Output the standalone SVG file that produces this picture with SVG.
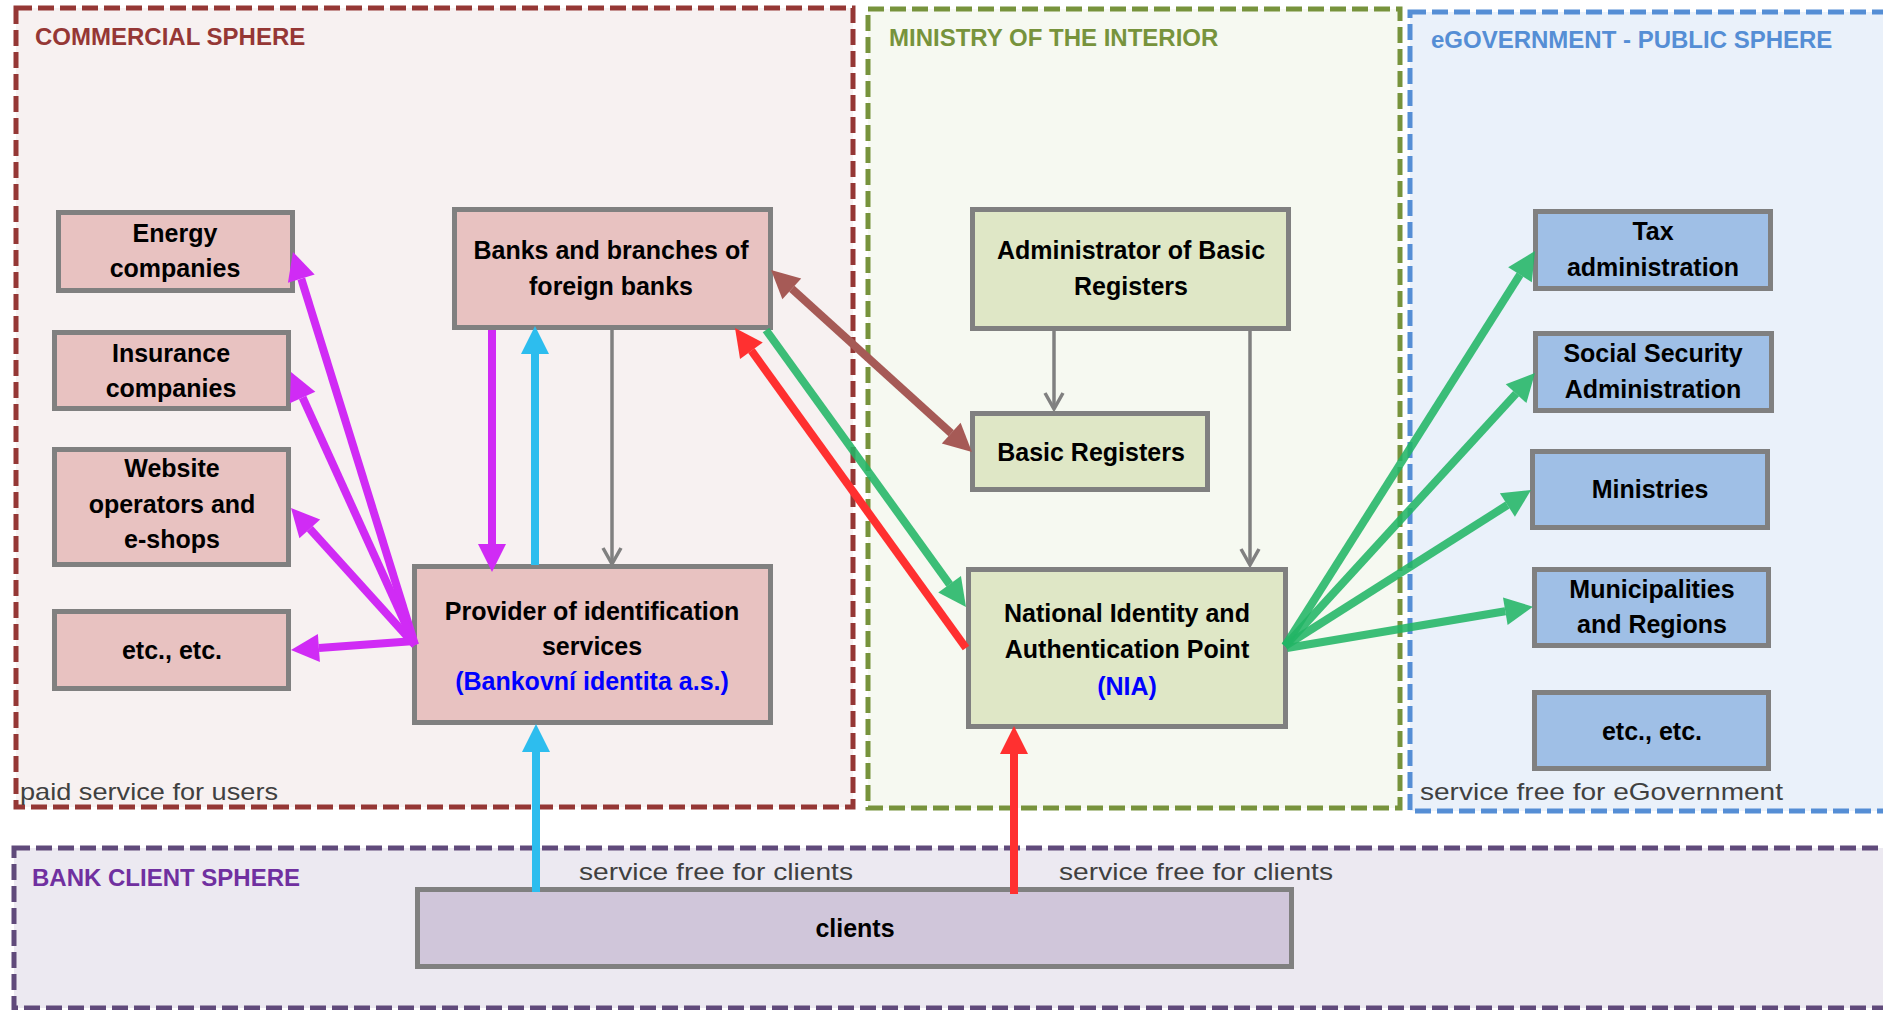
<svg xmlns="http://www.w3.org/2000/svg" width="1883" height="1010" viewBox="0 0 1883 1010">
<style>
.zone{stroke-width:5;stroke-dasharray:16 6}
.title{font-family:"Liberation Sans",Arial,sans-serif;font-weight:bold;font-size:24px}
.note{font-family:"Liberation Sans",Arial,sans-serif;font-size:24px;fill:#404040}
.box{stroke:#808080;stroke-width:5}
.pink{fill:#E8C2C1}
.green{fill:#DFE7C6}
.blue{fill:#9FBFE6}
.purple{fill:#D0C6DA}
.lbl{font-family:"Liberation Sans",Arial,sans-serif;font-weight:bold;font-size:25px;fill:#000;text-anchor:middle}
.hl{fill:#0000FF}
.mag{stroke:#D02BF5;stroke-width:8;fill:none}
.cyan{stroke:#2DBDEE;stroke-width:8;fill:none}
.red{stroke:#FF3030;stroke-width:8;fill:none}
.brown{stroke:#A65A56;stroke-width:8;fill:none}
.grn{stroke:#22B565;stroke-opacity:0.88;stroke-width:8;fill:none}
.gray{stroke:#808080;stroke-width:3.5;fill:none}
</style>
<defs>
<marker id="aMag" markerUnits="userSpaceOnUse" markerWidth="30" markerHeight="30" refX="0" refY="14" orient="auto" overflow="visible"><path d="M0,0 L28,14 L0,28 z" fill="#D02BF5"/></marker>
<marker id="aCyan" markerUnits="userSpaceOnUse" markerWidth="30" markerHeight="30" refX="0" refY="14" orient="auto" overflow="visible"><path d="M0,0 L28,14 L0,28 z" fill="#2DBDEE"/></marker>
<marker id="aRed" markerUnits="userSpaceOnUse" markerWidth="30" markerHeight="30" refX="0" refY="14" orient="auto" overflow="visible"><path d="M0,0 L28,14 L0,28 z" fill="#FF3030"/></marker>
<marker id="aBrown" markerUnits="userSpaceOnUse" markerWidth="30" markerHeight="30" refX="0" refY="14" orient="auto-start-reverse" overflow="visible"><path d="M0,0 L28,14 L0,28 z" fill="#A65A56"/></marker>
<marker id="aGrn" markerUnits="userSpaceOnUse" markerWidth="30" markerHeight="30" refX="0" refY="14" orient="auto" overflow="visible"><path d="M0,0 L28,14 L0,28 z" fill="#22B565" fill-opacity="0.88"/></marker>
<marker id="aGray" markerUnits="userSpaceOnUse" markerWidth="20" markerHeight="20" refX="0" refY="0" orient="auto" overflow="visible"><path d="M-16,-9 L0,0 L-16,9" fill="none" stroke="#808080" stroke-width="3.5"/></marker>
</defs>
<rect width="1883" height="1010" fill="#FFFFFF"/>
<g id="zones">
<g id="zone-commercial">
<rect class="zone" x="16" y="8" width="837" height="799" fill="#F7F1F1" stroke="#953735"/>
<text class="title" x="35" y="45" fill="#953735">COMMERCIAL SPHERE</text>
<text class="note" x="20" y="800" textLength="258" lengthAdjust="spacingAndGlyphs">paid service for users</text>
</g>
<g id="zone-ministry">
<rect class="zone" x="868" y="9" width="532" height="799" fill="#F6F9F1" stroke="#77933C"/>
<text class="title" x="889" y="46" fill="#77933C">MINISTRY OF THE INTERIOR</text>
</g>
<g id="zone-egov">
<rect class="zone" x="1410" y="12" width="480" height="799" fill="#EAF1FA" stroke="#558ED5"/>
<text class="title" x="1431" y="48" fill="#558ED5">eGOVERNMENT - PUBLIC SPHERE</text>
<text class="note" x="1420" y="800" textLength="363" lengthAdjust="spacingAndGlyphs">service free for eGovernment</text>
</g>
<g id="zone-client">
<rect class="zone" x="14" y="848" width="1880" height="160" fill="#ECE9F1" stroke="#604A7B"/>
<text class="title" x="32" y="886" fill="#7030A0">BANK CLIENT SPHERE</text>
<text class="note" x="579" y="880" textLength="274" lengthAdjust="spacingAndGlyphs">service free for clients</text>
<text class="note" x="1059" y="880" textLength="274" lengthAdjust="spacingAndGlyphs">service free for clients</text>
</g>
</g>
<g id="nodes">
<g id="energy"><rect class="box pink" x="58.5" y="212.5" width="234" height="78"/><text class="lbl" x="175" y="242">Energy</text><text class="lbl" x="175" y="277">companies</text></g>
<g id="insurance"><rect class="box pink" x="54.5" y="332.5" width="234" height="76"/><text class="lbl" x="171" y="362">Insurance</text><text class="lbl" x="171" y="397">companies</text></g>
<g id="website"><rect class="box pink" x="54.5" y="449.5" width="234" height="115"/><text class="lbl" x="172" y="477">Website</text><text class="lbl" x="172" y="513">operators and</text><text class="lbl" x="172" y="548">e-shops</text></g>
<g id="etc-commercial"><rect class="box pink" x="54.5" y="611.5" width="234" height="77"/><text class="lbl" x="172" y="659">etc., etc.</text></g>
<g id="banks"><rect class="box pink" x="454.5" y="209.5" width="316" height="118"/><text class="lbl" x="611" y="259">Banks and branches of</text><text class="lbl" x="611" y="295">foreign banks</text></g>
<g id="provider"><rect class="box pink" x="414.5" y="566.5" width="356" height="156"/><text class="lbl" x="592" y="620">Provider of identification</text><text class="lbl" x="592" y="655">services</text><text class="lbl hl" x="592" y="690">(Bankovní identita a.s.)</text></g>
<g id="admin"><rect class="box green" x="972.5" y="209.5" width="316" height="119"/><text class="lbl" x="1131" y="259">Administrator of Basic</text><text class="lbl" x="1131" y="295">Registers</text></g>
<g id="basic-registers"><rect class="box green" x="972.5" y="413.5" width="235" height="76"/><text class="lbl" x="1091" y="461">Basic Registers</text></g>
<g id="nia"><rect class="box green" x="968.5" y="569.5" width="317" height="157"/><text class="lbl" x="1127" y="622">National Identity and</text><text class="lbl" x="1127" y="658">Authentication Point</text><text class="lbl hl" x="1127" y="695">(NIA)</text></g>
<g id="tax"><rect class="box blue" x="1535.5" y="211.5" width="235" height="77"/><text class="lbl" x="1653" y="240">Tax</text><text class="lbl" x="1653" y="276">administration</text></g>
<g id="social"><rect class="box blue" x="1535.5" y="333.5" width="236" height="77"/><text class="lbl" x="1653" y="362">Social Security</text><text class="lbl" x="1653" y="398">Administration</text></g>
<g id="ministries"><rect class="box blue" x="1532.5" y="451.5" width="235" height="76"/><text class="lbl" x="1650" y="498">Ministries</text></g>
<g id="municipalities"><rect class="box blue" x="1534.5" y="569.5" width="234" height="76"/><text class="lbl" x="1652" y="598">Municipalities</text><text class="lbl" x="1652" y="633">and Regions</text></g>
<g id="etc-egov"><rect class="box blue" x="1534.5" y="692.5" width="234" height="76"/><text class="lbl" x="1652" y="740">etc., etc.</text></g>
<g id="clients"><rect class="box purple" x="417.5" y="889.5" width="874" height="77"/><text class="lbl" x="855" y="937">clients</text></g>
</g>
<g id="connectors">
<path class="mag" d="M415,645 L301.3,278.7" marker-end="url(#aMag)"/>
<path class="mag" d="M415,645 L302.6,397.5" marker-end="url(#aMag)"/>
<path class="mag" d="M415,645 L309.8,528.8" marker-end="url(#aMag)"/>
<path class="mag" d="M415,641 L318.9,648" marker-end="url(#aMag)"/>
<path class="mag" d="M492,330 V544" marker-end="url(#aMag)"/>
<path class="cyan" d="M535,565 V354" marker-end="url(#aCyan)"/>
<path class="gray" d="M612,330 V564" marker-end="url(#aGray)"/>
<path class="brown" d="M791.8,288.8 L951.2,433.2" marker-start="url(#aBrown)" marker-end="url(#aBrown)"/>
<path class="red" d="M966,648 L751.4,350.7" marker-end="url(#aRed)"/>
<path class="grn" d="M766,330 L949.6,584.3" marker-end="url(#aGrn)"/>
<path class="red" d="M1014,894 V754" marker-end="url(#aRed)"/>
<path class="cyan" d="M536,892 V752" marker-end="url(#aCyan)"/>
<path class="gray" d="M1054,330 V409" marker-end="url(#aGray)"/>
<path class="gray" d="M1250,330 V565" marker-end="url(#aGray)"/>
<path class="grn" d="M1285,646 L1520,274.7" marker-end="url(#aGrn)"/>
<path class="grn" d="M1285,646 L1516.1,393.6" marker-end="url(#aGrn)"/>
<path class="grn" d="M1285,646 L1507.4,505" marker-end="url(#aGrn)"/>
<path class="grn" d="M1287,648 L1505.3,611.3" marker-end="url(#aGrn)"/>
</g>
</svg>
